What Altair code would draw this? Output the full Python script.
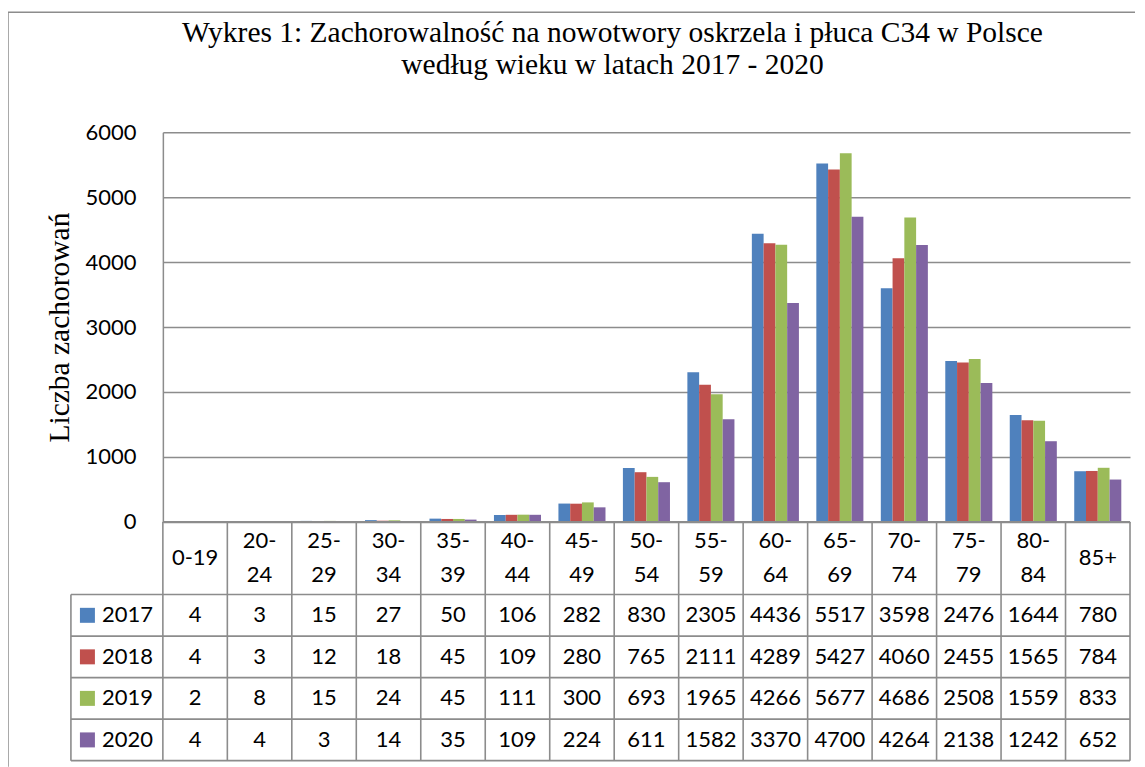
import altair as alt
import pandas as pd

ages = ["0-19", "20-24", "25-29", "30-34", "35-39", "40-44", "45-49", "50-54",
        "55-59", "60-64", "65-69", "70-74", "75-79", "80-84", "85+"]
header_labels = ["0-19", "20-\n24", "25-\n29", "30-\n34", "35-\n39", "40-\n44", "45-\n49",
                 "50-\n54", "55-\n59", "60-\n64", "65-\n69", "70-\n74", "75-\n79", "80-\n84", "85+"]
years = ["2017", "2018", "2019", "2020"]
v2017 = [4, 3, 15, 27, 50, 106, 282, 830, 2305, 4436, 5517, 3598, 2476, 1644, 780]
v2018 = [4, 3, 12, 18, 45, 109, 280, 765, 2111, 4289, 5427, 4060, 2455, 1565, 784]
v2019 = [2, 8, 15, 24, 45, 111, 300, 693, 1965, 4266, 5677, 4686, 2508, 1559, 833]
v2020 = [4, 4, 3, 14, 35, 109, 224, 611, 1582, 3370, 4700, 4264, 2138, 1242, 652]
colors = ["#4F81BD", "#C0504D", "#9BBB59", "#8064A2"]
y_ticks = [0, 1000, 2000, 3000, 4000, 5000, 6000]

series = {"2017": v2017, "2018": v2018, "2019": v2019, "2020": v2020}

GRAY = "#8c8c8c"
W, H_TOP, H_TAB = 968, 390, 239
HEAD = 1.75          # header row height in row units
ROW_PX = H_TAB / (HEAD + 4)
LINE_U = 34 / ROW_PX  # header line spacing in row units

rows = []
for y in years:
    for a, v in zip(ages, series[y]):
        rows.append({"age": a, "year": y, "value": v})
bars_df = pd.DataFrame(rows)

color_scale = alt.Scale(domain=years, range=colors)

bars = alt.Chart(bars_df).mark_bar().encode(
    x=alt.X("age:N", sort=ages, axis=None,
            scale=alt.Scale(paddingInner=0.27, paddingOuter=0.135)),
    xOffset=alt.XOffset("year:N", sort=years),
    y=alt.Y("value:Q", scale=alt.Scale(domain=[0, 6000]),
            axis=alt.Axis(values=y_ticks, format="d", title="Liczba zachorowań",
                          titleFont="Liberation Serif", titleFontSize=29.5,
                          titleFontWeight="normal", titleColor="black", titlePadding=10,
                          labelFont="Lato", labelFontSize=22, labelColor="black",
                          labelPadding=27, ticks=False, tickSize=0,
                          domainColor=GRAY, domainWidth=1.5,
                          gridColor=GRAY, gridWidth=1.5)),
    color=alt.Color("year:N", scale=color_scale, legend=None),
)

top = bars.properties(
    width=W, height=H_TOP,
    title=alt.TitleParams(
        text=["Wykres 1: Zachorowalność na nowotwory oskrzela i płuca C34 w Polsce",
              "według wieku w latach 2017 - 2020"],
        font="Liberation Serif", fontSize=29.5, fontWeight="normal", color="black",
        anchor="middle", frame="group", baseline="alphabetic", offset=18,
        lineHeight=32, dx=-34),
)

# ---- table ----
ncol = len(ages)
leg_left = -1.426
hrows = []
for i, lab in enumerate(header_labels):
    parts = lab.split("\n")
    n = len(parts)
    for k, p in enumerate(parts):
        hrows.append({"c": i + 0.5, "r": HEAD / 2 + (k - (n - 1) / 2) * LINE_U, "lab": p})
head_df = pd.DataFrame(hrows)
vals = []
for j, y in enumerate(years):
    for i, v in enumerate(series[y]):
        vals.append({"c": i + 0.5, "r": HEAD + j + 0.5, "val": str(v)})
vals_df = pd.DataFrame(vals)
leg_df = pd.DataFrame({"yr": years, "r": [HEAD + j + 0.5 for j in range(len(years))],
                       "cs": [-1.17] * 4, "cl": [-0.945] * 4})

lines = [{"x": 0, "x2": ncol, "y": 0, "y2": 0}]
for j in range(len(years) + 1):
    lines.append({"x": leg_left, "x2": ncol, "y": HEAD + j, "y2": HEAD + j})
for i in range(ncol + 1):
    lines.append({"x": i, "x2": i, "y": 0, "y2": HEAD + len(years)})
lines.append({"x": leg_left, "x2": leg_left, "y": HEAD, "y2": HEAD + len(years)})
lines_df = pd.DataFrame(lines)

xs = alt.Scale(domain=[0, ncol], nice=False, zero=False)
ys = alt.Scale(domain=[0, HEAD + len(years)], reverse=True, nice=False, zero=False)

grid = alt.Chart(lines_df).mark_rule(color=GRAY, strokeWidth=1.6).encode(
    x=alt.X("x:Q", scale=xs, axis=None), x2="x2:Q",
    y=alt.Y("y:Q", scale=ys, axis=None), y2="y2:Q")
head = alt.Chart(head_df).mark_text(font="Lato", fontSize=22, color="black",
                                    align="center", baseline="middle").encode(
    x=alt.X("c:Q", scale=xs, axis=None), y=alt.Y("r:Q", scale=ys, axis=None), text="lab:N")
nums = alt.Chart(vals_df).mark_text(font="Lato", fontSize=22, color="black",
                                    align="center", baseline="middle").encode(
    x=alt.X("c:Q", scale=xs, axis=None), y=alt.Y("r:Q", scale=ys, axis=None), text="val:N")
squares = alt.Chart(leg_df).mark_square(size=225, opacity=1).encode(
    x=alt.X("cs:Q", scale=xs, axis=None), y=alt.Y("r:Q", scale=ys, axis=None),
    color=alt.Color("yr:N", scale=color_scale, legend=None))
leg_txt = alt.Chart(leg_df).mark_text(font="Lato", fontSize=22, color="black",
                                      align="left", baseline="middle").encode(
    x=alt.X("cl:Q", scale=xs, axis=None), y=alt.Y("r:Q", scale=ys, axis=None), text="yr:N")

# outer chart frame (decoration, pixel offsets from the table's plot area)
frame_df = pd.DataFrame({"k": [0]})
frame_top = alt.Chart(frame_df).mark_rule(color=GRAY, strokeWidth=1.5).encode(
    x=alt.value(-155), x2=alt.value(973), y=alt.value(-510))
frame_left = alt.Chart(frame_df).mark_rule(color=GRAY, strokeWidth=1.5).encode(
    x=alt.value(-155), y=alt.value(-510), y2=alt.value(H_TAB + 6))

table = alt.layer(grid, head, nums, squares, leg_txt, frame_top, frame_left).properties(
    width=W, height=H_TAB)

chart = alt.vconcat(top, table, spacing=0, bounds="flush").resolve_scale(
    x="independent", y="independent", color="independent"
).properties(padding={"left": -2, "top": 2, "right": 0, "bottom": 0}).configure_view(
    stroke="transparent")

chart.save("out.html", embed_options={"renderer": "svg", "actions": False})
